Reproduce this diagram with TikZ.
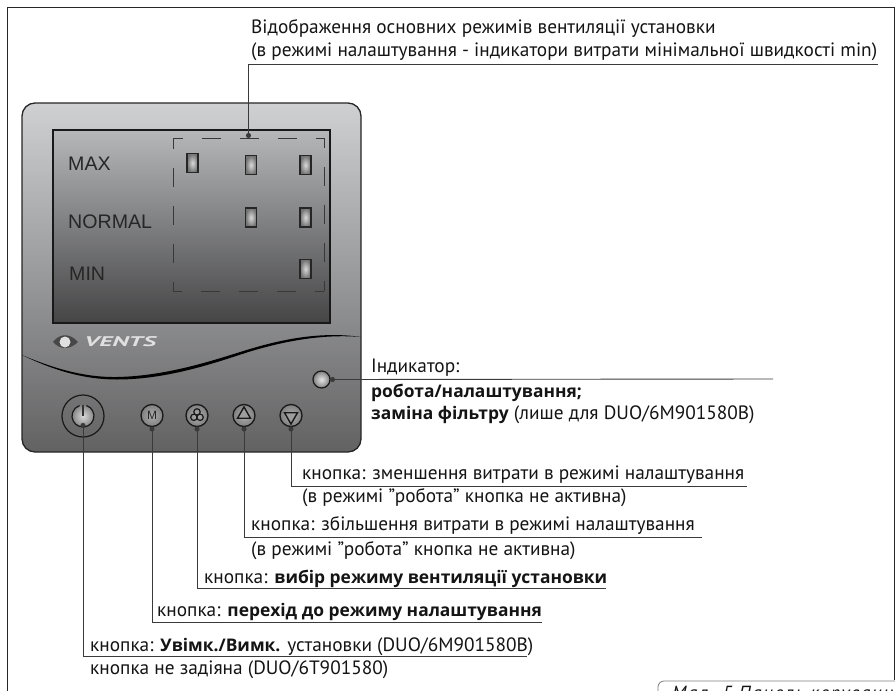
\documentclass[tikz,border=0pt]{standalone}
\usepackage{fontspec}
\setmainfont{PT Sans}
\newfontfamily\arialfont{Liberation Sans}
\newfontfamily\heavyfont{Open Sans}
\usepackage{xcolor}
\usepackage{tikz}
\usetikzlibrary{arrows.meta, positioning, shapes.geometric}

\definecolor{panelTop}{HTML}{CFD0D2}
\definecolor{panelBottom}{HTML}{626263}
\definecolor{screenTop}{HTML}{B6B7B9}
\definecolor{screenBottom}{HTML}{454546}
\definecolor{leadGray}{HTML}{3A3A3A}
\newcommand{\heavytext}[1]{{\heavyfont\bfseries\fontsize{17.4}{22}\selectfont #1}}

\begin{document}
\begin{tikzpicture}[
  x=1pt, y=-1pt,
  panel/.style={draw=black!85, line width=1.3pt, rounded corners=13pt, top color=panelTop, bottom color=panelBottom, minimum width=339pt, minimum height=349pt, inner sep=0pt, outer sep=0pt},
  screen/.style={draw=black!90, line width=1.5pt, top color=screenTop, bottom color=screenBottom, minimum width=277pt, minimum height=193pt, inner sep=0pt, outer sep=0pt},
  modebox/.style={minimum width=151pt, minimum height=153pt, inner sep=0pt, outer sep=0pt},
  modeside/.style={draw=black!78, line width=0.9pt, dash pattern=on 19pt off 19pt, dash phase=9.5pt},
  modeled/.style={draw=black!85, line width=1.3pt, inner color=white!85!black, outer color=black!55, minimum width=11pt, minimum height=19pt, inner sep=0pt, outer sep=0pt},
  modename/.style={anchor=base west, inner sep=0pt, font=\arialfont\fontsize{19.6}{20}\selectfont, text=black!85},
  knob/.style={circle, draw=black!90, line width=1.3pt, inner color=black!32, outer color=black!50, minimum size=22pt, inner sep=0pt, outer sep=0pt},
  icon/.style={draw=black!90, line width=1.2pt},
  label/.style={anchor=base west, inner sep=0pt, font=\fontsize{19.3}{22}\selectfont, text=black!92},
  leader/.style={{Circle[length=5pt]}-, line width=0.9pt, draw=leadGray},
]
\clip (0,0) rectangle (895,691);

% frame
\draw[line width=1pt, draw=black!85] (7,691) -- (7,7) -- (894,7) -- (894,680);
\draw[line width=0.8pt, draw=black!50] (658,691) -- (658,687) arc[start angle=180, end angle=90, radius=6pt] -- (895,681);
\node[label, font=\itshape\fontsize{19}{22}\selectfont\addfontfeature{LetterSpace=8}, anchor=base west] (caption) at (672,699) {Мал. 5 Панель керування};

% panel
\node[panel] (panelbody) at (191.5,277.5) {};
\node[screen] (lcd) at (191.5,226.5) {};
\fill[black] (22,355) .. controls (55,369) and (85,377.5) .. (117,377) .. controls (170,376) and (220,358) .. (250,349)
  .. controls (280,340) and (320,331) .. (361,337) .. controls (320,333.5) and (280,342.5) .. (250,351.5)
  .. controls (220,361) and (170,379.5) .. (117,379.5) .. controls (85,379.5) and (55,371) .. (22,355) -- cycle;

\node[modebox] (modes) at (248.5,214.5) {};
\draw[modeside] (modes.north west) -- (modes.north east);
\draw[modeside] (modes.north east) -- (modes.south east);
\draw[modeside] (modes.south east) -- (modes.south west);
\draw[modeside] (modes.south west) -- (modes.north west);
\node[modename] (maxname) at (68,170) {MAX};
\node[modename] (normalname) at (68,228) {NORMAL};
\node[modename] (minname) at (69,280) {MIN};
\node[modeled] (ledmax) at (192.5,163) {};
\node[modeled] (ledmaxb) at (251,165) {};
\node[modeled] (ledmaxc) at (305.5,165) {};
\node[modeled] (lednorm) at (251,217.5) {};
\node[modeled] (lednormb) at (305.5,217.5) {};
\node[modeled] (ledmin) at (305.5,269) {};

% logo
\fill[black!72] (53,342) .. controls (60,333) and (70,333) .. (78,342) .. controls (70,350) and (60,350) .. (53,342) -- cycle;
\fill[white!88!black] (65,342) circle (5.5pt);
\node[anchor=west, inner sep=0pt, text=white!88!black, font=\bfseries\itshape\fontsize{14}{14}\selectfont, xscale=1.85] (logo) at (84,342) {VENTS};

% controls
\node[circle, draw=black!90, line width=1.2pt, minimum size=42pt, inner sep=0pt, outer sep=0pt] (power) at (83,416) {};
\node[circle, inner color=white!85!black, outer color=black!48, minimum size=22pt, inner sep=0pt, outer sep=0pt] (powerface) at (83,416) {};
\draw[icon] (power.center) ++(72:11pt) arc[start angle=72, end angle=-252, radius=11pt];
\draw[icon, draw=black!80] (83,405) -- (powerface.center);
\coordinate (powerdot) at (83,423);

\node[knob] (btnm) at (152,415.5) {};
\node[knob, right=23pt of btnm] (btnfan) {};
\node[knob, right=25pt of btnfan] (btnup) {};
\node[knob, right=25pt of btnup] (btndown) {};
\node[inner sep=0pt, text=black!85, font=\arialfont\fontsize{12}{12}\selectfont] (mmark) at (btnm) {M};
\foreach \ang in {90,210,330}
  \draw[icon] (btnfan.center) ++(\ang:3.6pt) circle[radius=3.2pt];
\node[regular polygon, regular polygon sides=3, draw=black!90, line width=1.4pt, fill=white!62!black, minimum size=15pt, inner sep=0pt] (upmark) at (244,414.5) {};
\node[regular polygon, regular polygon sides=3, shape border rotate=180, draw=black!90, line width=1.4pt, fill=white!62!black, minimum size=15pt, inner sep=0pt] (downmark) at (291,416.5) {};
\node[circle, draw=black!90, line width=1.2pt, inner color=white!90!black, outer color=black!50, minimum size=17pt, inner sep=0pt, outer sep=0pt] (statusled) at (321.5,379.5) {};

% leaders
\coordinate (modesend) at (878,64);
\coordinate (ledend) at (773,379);
\coordinate (downend) at (747,486);
\coordinate (upend) at (702,537);
\coordinate (fanend) at (606,588);
\coordinate (mend) at (542,622);
\coordinate (powerend) at (527,656);
\draw[leader] (modes.north) |- (modesend);
\draw[leader] (statusled.east) -- (ledend);
\draw[leader] (btndown.south) |- (downend);
\draw[leader] (btnup.south) |- (upend);
\draw[leader] (btnfan.south) |- (fanend);
\draw[leader] (btnm.south) |- (mend);
\draw[leader] (powerdot) |- (powerend);

% texts
\node[label] (modestexta) at (251,33) {Відображення основних режимів вентиляції установки};
\node[label] (modestextb) at (251,56) {(в режимі налаштування - індикатори витрати мінімальної швидкості min)};
\node[label] (ledtexta) at (371,372) {Індикатор:};
\node[label] (ledtextb) at (371,397) {\heavytext{робота/налаштування;}};
\node[label] (ledtextc) at (371,419) {\heavytext{заміна фільтру} (лише для DUO/6M901580B)};
\node[label] (downtexta) at (302,479) {кнопка: зменшення витрати в режимі налаштування};
\node[label] (downtextb) at (302,502) {(в режимі "робота" кнопка не активна)};
\node[label] (uptexta) at (251,530) {кнопка: збільшення витрати в режимі налаштування};
\node[label] (uptextb) at (251,555) {(в режимі "робота" кнопка не активна)};
\node[label] (fantext) at (204,583) {кнопка: \heavytext{вибір режиму вентиляції установки}};
\node[label] (mtext) at (157,616) {кнопка: \heavytext{перехід до режиму налаштування}};
\node[label] (powertexta) at (90,651) {кнопка: \heavytext{Увімк./Вимк.} установки (DUO/6M901580B)};
\node[label] (powertextb) at (90,674) {кнопка не задіяна (DUO/6T901580)};

\end{tikzpicture}
\end{document}
